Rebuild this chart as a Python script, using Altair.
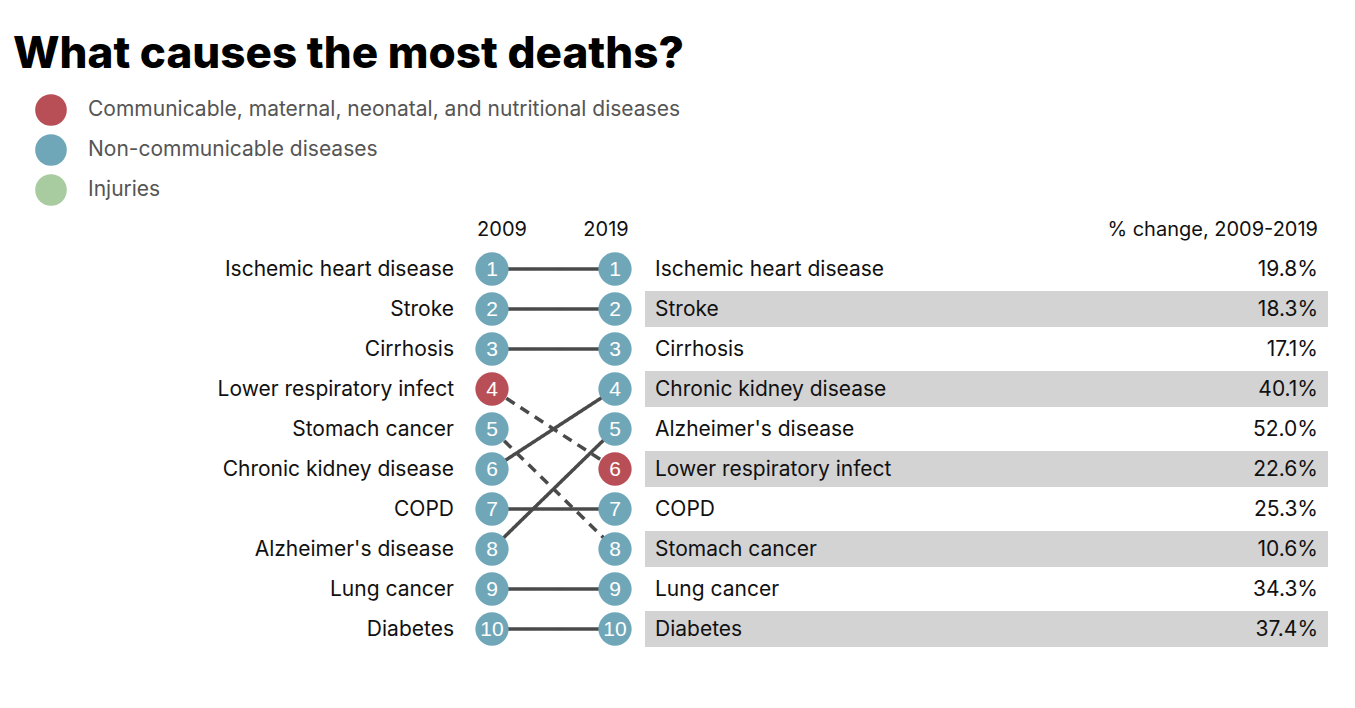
import altair as alt
import pandas as pd

title = "What causes the most deaths?"
causes = ["Ischemic heart disease", "Stroke", "Cirrhosis", "Lower respiratory infect",
          "Stomach cancer", "Chronic kidney disease", "COPD", "Alzheimer's disease",
          "Lung cancer", "Diabetes"]
rank_2009 = [1, 2, 3, 4, 5, 6, 7, 8, 9, 10]
rank_2019 = [1, 2, 3, 6, 8, 4, 7, 5, 9, 10]
groups = ["Non-communicable diseases", "Non-communicable diseases", "Non-communicable diseases",
          "Communicable, maternal, neonatal, and nutritional diseases",
          "Non-communicable diseases", "Non-communicable diseases", "Non-communicable diseases",
          "Non-communicable diseases", "Non-communicable diseases", "Non-communicable diseases"]
pct_change = [19.8, 18.3, 17.1, 22.6, 10.6, 40.1, 25.3, 52.0, 34.3, 37.4]
group_names = ["Communicable, maternal, neonatal, and nutritional diseases",
               "Non-communicable diseases", "Injuries"]
group_colors = ["#b84f56", "#6fa7b9", "#a8cca0"]
years = ["2009", "2019"]
pct_header = "% change, 2009-2019"

FONT = "Inter"
FS = 21

df = pd.DataFrame({"cause": causes, "r2009": rank_2009, "r2019": rank_2019,
                   "group": groups, "pct": pct_change})
df["pct_label"] = df["pct"].map(lambda v: f"{v:.1f}%")

long = pd.concat([
    pd.DataFrame({"cause": causes, "col": 0, "rank": rank_2009, "group": groups}),
    pd.DataFrame({"cause": causes, "col": 1, "rank": rank_2019, "group": groups}),
])
long["rank_label"] = long["rank"].astype(str)

hdr = pd.DataFrame({"col": [0, 1], "rank": [0, 0], "label": years})

xs = alt.Scale(domain=[0, 1], range=[484, 607])
ys = alt.Scale(domain=[0, 10], range=[221, 621])
color_scale = alt.Scale(domain=group_names, range=group_colors)

base = alt.Chart(df)

bands = base.transform_filter("datum.r2019 % 2 == 0").transform_calculate(
    lo="datum.r2019 - 0.45", hi="datum.r2019 + 0.45"
).mark_rect(color="#d3d3d3").encode(
    x=alt.value(637), x2=alt.value(1320),
    y=alt.Y("lo:Q", scale=ys, axis=None), y2="hi:Q")

lines = base.transform_calculate(c0="0", c1="1").mark_rule(
    color="#4a4a4a", strokeWidth=3.5).encode(
    x=alt.X("c0:Q", scale=xs, axis=None), x2="c1:Q",
    y=alt.Y("r2009:Q", scale=ys, axis=None), y2="r2019:Q",
    strokeDash=alt.condition("datum.r2019 > datum.r2009",
                             alt.value([10, 7]), alt.value([1, 0])))

circles = alt.Chart(long).mark_circle(size=1110, opacity=1).encode(
    x=alt.X("col:Q", scale=xs, axis=None),
    y=alt.Y("rank:Q", scale=ys, axis=None),
    color=alt.Color("group:N", scale=color_scale, legend=alt.Legend(
        title=None, orient="none", legendX=27, legendY=86,
        symbolType="circle", symbolSize=1000, symbolStrokeWidth=0, symbolOpacity=1,
        labelFontSize=FS, labelColor="#555555", labelFont=FONT, labelOffset=21,
        rowPadding=8, labelLimit=800)))

nums = alt.Chart(long).mark_text(font="Liberation Sans", fontSize=21, color="white",
                                 baseline="middle", align="center", dy=1).encode(
    x=alt.X("col:Q", scale=xs, axis=None),
    y=alt.Y("rank:Q", scale=ys, axis=None),
    text="rank_label:N")

left_labels = base.transform_calculate(c0="0").mark_text(
    font=FONT, fontSize=FS, color="#111111", align="right", baseline="middle", dx=-38, dy=1).encode(
    x=alt.X("c0:Q", scale=xs, axis=None),
    y=alt.Y("r2009:Q", scale=ys, axis=None), text="cause:N")

right_labels = base.transform_calculate(c1="1").mark_text(
    font=FONT, fontSize=FS, color="#111111", align="left", baseline="middle", dx=40, dy=1).encode(
    x=alt.X("c1:Q", scale=xs, axis=None),
    y=alt.Y("r2019:Q", scale=ys, axis=None), text="cause:N")

pct_labels = base.transform_calculate(c1="1").mark_text(
    font=FONT, fontSize=FS, color="#111111", align="right", baseline="middle", dx=703, dy=1).encode(
    x=alt.X("c1:Q", scale=xs, axis=None),
    y=alt.Y("r2019:Q", scale=ys, axis=None), text="pct_label:N")

hdr_2009 = alt.Chart(hdr).transform_filter("datum.col == 0").mark_text(
    font=FONT, fontSize=20, color="#111111", align="center", baseline="middle", dx=10, dy=1).encode(
    x=alt.X("col:Q", scale=xs, axis=None),
    y=alt.Y("rank:Q", scale=ys, axis=None), text="label:N")

hdr_2019 = alt.Chart(hdr).transform_filter("datum.col == 1").mark_text(
    font=FONT, fontSize=20, color="#111111", align="center", baseline="middle", dx=-9, dy=1).encode(
    x=alt.X("col:Q", scale=xs, axis=None),
    y=alt.Y("rank:Q", scale=ys, axis=None), text="label:N")

pct_head = alt.Chart(pd.DataFrame({"col": [1], "rank": [0], "label": [pct_header]})).mark_text(
    font=FONT, fontSize=20, color="#111111", align="right", baseline="middle", dx=703, dy=1).encode(
    x=alt.X("col:Q", scale=xs, axis=None),
    y=alt.Y("rank:Q", scale=ys, axis=None), text="label:N")

title_mark = alt.Chart(pd.DataFrame({"t": [title]})).mark_text(
    font=FONT, fontSize=44, fontWeight=800, color="#000000", align="left",
    baseline="alphabetic").encode(x=alt.value(5), y=alt.value(60), text="t:N")

chart = alt.layer(bands, lines, circles, nums, left_labels, right_labels, pct_labels,
                  hdr_2009, hdr_2019, pct_head, title_mark).properties(
    width=1339, height=692, autosize="none", padding=0
).configure_view(stroke=None)

chart.save("out.html", embed_options={"renderer": "svg", "actions": False})
